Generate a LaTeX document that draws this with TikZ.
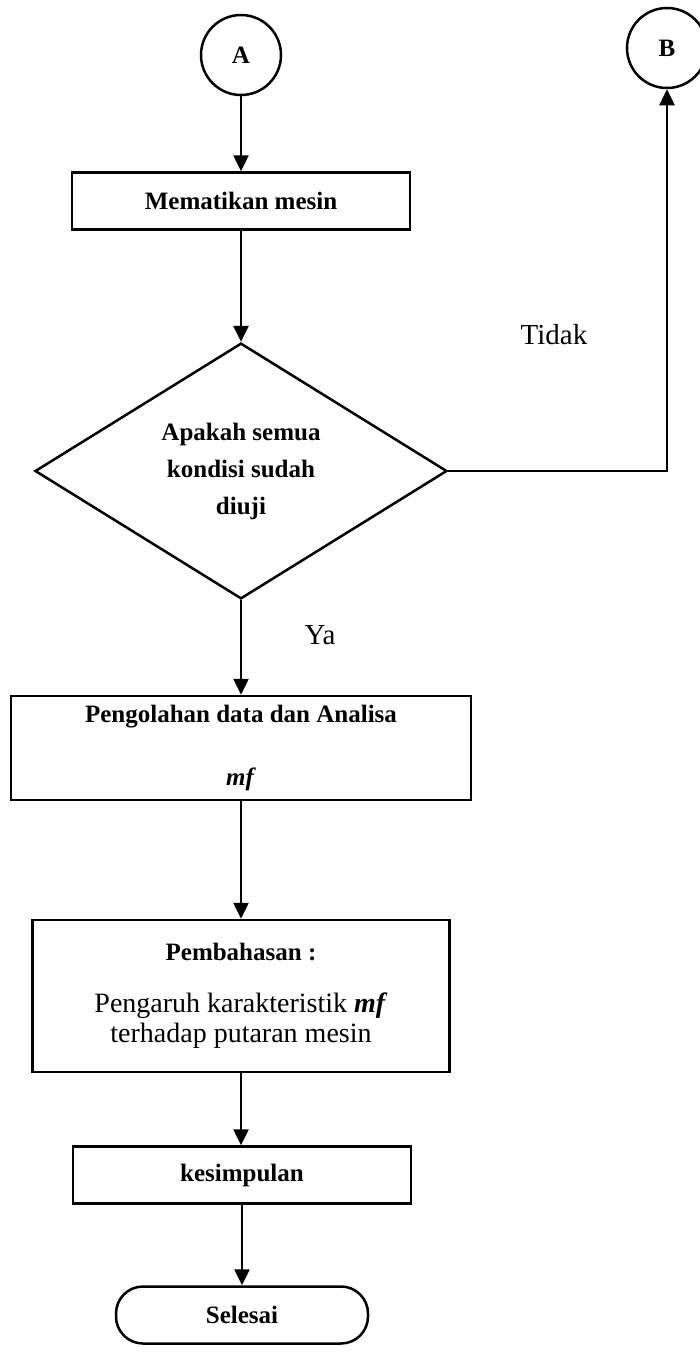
\documentclass[tikz,border=0pt]{standalone}
\usepackage{fontspec}
\setmainfont{Liberation Serif}
\usetikzlibrary{shapes.geometric,arrows.meta}

\begin{document}
\begin{tikzpicture}[x=1pt,y=-1pt,
  tebal/.style={font=\fontsize{25}{30}\selectfont\bfseries},
  biasa/.style={font=\fontsize{29}{32}\selectfont},
  konektor/.style={draw, circle, tebal, line width=2.5pt, minimum size=80pt, inner sep=0pt},
  proses/.style={draw, rectangle, tebal, line width=2.5pt, align=center, inner sep=0pt},
  keputusan/.style={draw, diamond, line width=2.5pt, align=center, inner sep=0pt,
    minimum width=412pt, minimum height=228pt, font=\fontsize{25}{37}\selectfont\bfseries},
  terminal/.style={draw, rectangle, tebal, line width=2.5pt, rounded corners=27pt,
    minimum width=252pt, minimum height=57pt},
  panah/.style={-{Triangle[length=16pt,width=15pt]}, line width=2.5pt}]

  \useasboundingbox (0,0) rectangle (699,1352);

  \node[konektor] (A) at (241,55) {A};
  \node[konektor] (B) at (667,48) {B};

  \node[proses, minimum width=338pt, minimum height=57pt] (matikan) at (241,201) {Mematikan mesin};

  \node[keputusan] (diuji) at (241,471) {Apakah semua\\kondisi sudah\\diuji};
  \node[biasa] (tidak) at (554,335) {Tidak};
  \node[biasa] (ya) at (320,635) {Ya};

  \node[proses, minimum width=460pt, minimum height=104pt] (olah) at (241,748)
    {Pengolahan data dan Analisa\\[33pt]\textit{mf}};

  \node[proses, minimum width=417pt, minimum height=152pt] (bahas) at (241,996)
    {Pembahasan :\\[22pt]%
     \fontsize{28}{30}\selectfont\mdseries Pengaruh karakteristik \textbf{\textit{mf}}\\
     \fontsize{28}{30}\selectfont\mdseries terhadap putaran mesin};

  \node[proses, minimum width=338pt, minimum height=57pt] (simpul) at (242,1175) {kesimpulan};

  \node[terminal] (selesai) at (242,1315) {Selesai};

  \draw[panah] (A) -- (matikan);
  \draw[panah] (matikan) -- (diuji);
  \draw[panah] (diuji.east) -| (B.south);
  \draw[panah] (diuji) -- (olah);
  \draw[panah] (olah) -- (bahas);
  \draw[panah] (bahas.south) -- (simpul.north -| bahas.south);
  \draw[panah] (simpul) -- (selesai);

\end{tikzpicture}
\end{document}
